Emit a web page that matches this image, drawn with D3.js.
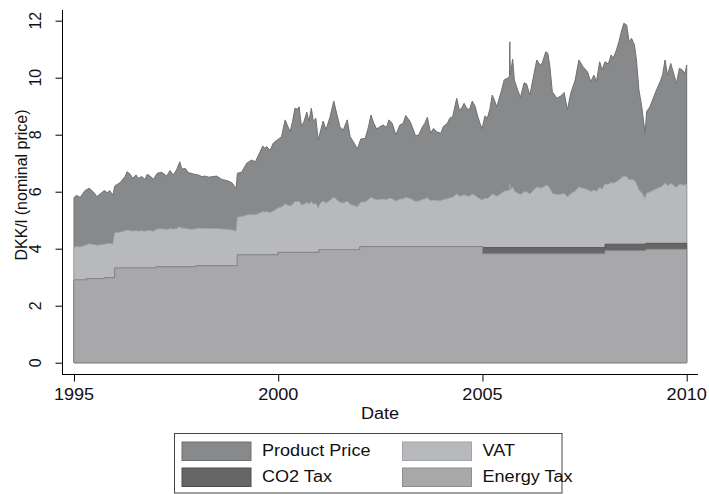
<!DOCTYPE html>
<html>
<head>
<meta charset="utf-8">
<script src="https://cdn.jsdelivr.net/npm/d3@7"></script>
<style>
  html, body { margin: 0; padding: 0; background: #fff; }
  svg { display: block; }
  text { font-family: "Liberation Sans", Arial, Helvetica, sans-serif; fill: #111; }
</style>
</head>
<body>
<svg id="chart" width="709" height="494"></svg>
<script>
// Danish petrol price decomposition, DKK per litre (nominal)
const dates = [
  1995.00,1995.07,1995.15,1995.27,1995.37,1995.47,1995.56,1995.64,1995.74,1995.82,1995.87,1995.95,1996.00,
  1996.13,1996.25,1996.30,1996.37,1996.44,1996.52,1996.57,1996.66,1996.74,1996.79,1996.88,1996.94,
  1997.04,1997.15,1997.27,1997.35,1997.43,1997.51,1997.59,1997.64,1997.72,1997.80,1997.92,
  1998.04,1998.13,1998.21,1998.29,1998.41,1998.49,1998.62,1998.74,1998.86,1998.97,
  1999.00,1999.10,1999.23,1999.35,1999.44,1999.54,1999.62,1999.67,1999.72,1999.80,1999.88,2000.00,
  2000.08,2000.17,2000.22,2000.29,2000.35,2000.41,2000.47,2000.51,2000.57,2000.63,2000.70,2000.75,2000.81,2000.86,2000.92,2000.98,
  2001.02,2001.10,2001.17,2001.27,2001.36,2001.43,2001.51,2001.59,2001.69,2001.76,2001.84,2001.94,
  2002.02,2002.13,2002.21,2002.27,2002.34,2002.41,2002.49,2002.57,2002.65,2002.71,2002.79,2002.88,2002.98,
  2003.06,2003.12,2003.23,2003.28,2003.36,2003.44,2003.53,2003.59,2003.65,2003.73,2003.80,2003.88,2003.98,
  2004.04,2004.14,2004.20,2004.27,2004.37,2004.43,2004.49,2004.55,2004.61,2004.68,2004.75,2004.82,2004.88,2004.94,2004.99,
  2005.06,2005.12,2005.18,2005.24,2005.29,2005.35,2005.40,2005.47,2005.53,2005.61,2005.66,2005.67,2005.68,2005.74,2005.78,2005.86,2005.93,
  2006.02,2006.08,2006.16,2006.24,2006.33,2006.41,2006.46,2006.55,2006.60,2006.65,2006.71,2006.82,2006.92,
  2007.00,2007.08,2007.16,2007.27,2007.36,2007.46,2007.57,2007.65,2007.73,2007.79,2007.87,2007.93,
  2008.00,2008.08,2008.15,2008.20,2008.28,2008.34,2008.41,2008.46,2008.53,2008.59,2008.65,2008.72,2008.77,2008.83,2008.90,2008.98,
  2009.02,2009.10,2009.18,2009.26,2009.35,2009.41,2009.47,2009.53,2009.61,2009.67,2009.75,2009.82,2009.89,2009.96,2010.00
];

// Retail pump price (top of the stack)
const pumpPrice = [
  5.80,5.87,5.80,6.04,6.12,6.00,5.83,5.92,6.04,5.96,6.04,5.88,6.20,
  6.32,6.53,6.70,6.62,6.47,6.59,6.47,6.53,6.43,6.61,6.53,6.43,
  6.65,6.68,6.55,6.74,6.59,6.76,7.05,6.79,6.82,6.67,6.62,
  6.59,6.53,6.55,6.51,6.53,6.55,6.43,6.39,6.32,6.12,
  6.65,6.68,7.00,7.11,7.05,7.35,7.60,7.53,7.58,7.45,7.71,7.84,
  7.93,8.52,8.34,8.10,8.46,8.93,8.89,8.98,8.28,8.46,8.79,8.46,8.93,8.46,8.58,7.81,
  8.05,8.48,8.17,8.63,9.18,8.75,8.28,8.16,8.52,7.93,7.75,7.50,
  7.85,7.87,8.28,8.69,8.40,8.20,8.28,8.34,8.25,8.52,8.40,7.99,8.34,
  8.40,8.67,8.46,8.28,7.96,7.99,8.28,8.40,8.61,8.05,8.22,8.10,8.05,
  8.28,8.40,8.58,8.63,9.28,8.87,8.93,9.10,8.93,8.87,9.18,9.00,8.66,8.40,8.20,
  8.66,8.58,8.89,9.39,9.22,8.98,9.22,9.57,9.92,9.98,10.05,11.26,10.10,10.65,9.92,9.57,9.31,
  9.82,9.78,9.39,9.98,10.62,10.45,10.50,10.91,10.86,10.39,9.51,9.28,9.36,
  9.48,8.87,9.45,9.92,10.62,10.39,10.21,9.86,10.09,9.86,10.56,10.27,
  10.56,10.48,10.80,10.68,10.97,11.26,11.67,11.91,11.85,11.26,11.38,11.15,10.62,9.57,8.98,8.05,
  8.81,8.98,9.28,9.57,9.86,10.10,10.62,10.09,10.50,10.20,9.80,10.33,10.27,10.15,10.45
];

// VAT per litre
const vat = [
  1.16,1.17,1.16,1.21,1.22,1.20,1.17,1.18,1.21,1.19,1.21,1.18,1.24,
  1.26,1.31,1.34,1.32,1.29,1.32,1.29,1.31,1.29,1.32,1.31,1.29,
  1.33,1.34,1.31,1.35,1.32,1.35,1.41,1.36,1.36,1.33,1.32,
  1.32,1.31,1.31,1.30,1.31,1.31,1.29,1.28,1.26,1.22,
  1.33,1.34,1.40,1.42,1.41,1.47,1.52,1.51,1.52,1.49,1.54,1.57,
  1.59,1.70,1.67,1.62,1.69,1.79,1.78,1.80,1.66,1.69,1.76,1.69,1.79,1.69,1.72,1.56,
  1.61,1.70,1.63,1.73,1.84,1.75,1.66,1.63,1.70,1.59,1.55,1.50,
  1.57,1.57,1.66,1.74,1.68,1.64,1.66,1.67,1.65,1.70,1.68,1.60,1.67,
  1.68,1.73,1.69,1.66,1.59,1.60,1.66,1.68,1.72,1.61,1.64,1.62,1.61,
  1.66,1.68,1.72,1.73,1.86,1.77,1.79,1.82,1.79,1.77,1.84,1.80,1.73,1.68,1.64,
  1.73,1.72,1.78,1.88,1.84,1.80,1.84,1.91,1.98,2.00,2.01,2.25,2.02,2.13,1.98,1.91,1.86,
  1.96,1.96,1.88,2.00,2.12,2.09,2.10,2.18,2.17,2.08,1.90,1.86,1.87,
  1.90,1.77,1.89,1.98,2.12,2.08,2.04,1.97,2.02,1.97,2.11,2.05,
  2.11,2.10,2.16,2.14,2.19,2.25,2.33,2.38,2.37,2.25,2.28,2.23,2.12,1.91,1.80,1.61,
  1.76,1.80,1.86,1.91,1.97,2.02,2.12,2.02,2.10,2.04,1.96,2.07,2.05,2.03,2.09
];

// Energy tax, changed at the listed dates
const energyTaxDates = [1995.00, 1995.30, 1995.75, 1996.00, 1997.00, 1998.00, 1999.00, 2000.00, 2001.00, 2002.00, 2005.00, 2008.00, 2009.00];
const energyTax      = [2.90,    2.95,    2.98,    3.32,    3.36,    3.40,    3.78,    3.87,    3.97,    4.07,    3.82,    3.93,    3.98];

// CO2 tax, introduced in 2005
const co2TaxDates = [1995.00, 2005.00, 2008.00, 2009.00];
const co2Tax      = [0.00,    0.22,    0.23,    0.21];

const xTicks = [1995, 2000, 2005, 2010];
const yTicks = [0, 2, 4, 6, 8, 10, 12];

const legendItems = [
  { label: "Product Price", fill: "#88898b", stroke: "#6f7072" },
  { label: "VAT",           fill: "#b8b9bc", stroke: "#a2a3a6" },
  { label: "CO2 Tax",       fill: "#666667", stroke: "#4e4e4f" },
  { label: "Energy Tax",    fill: "#a8a8aa", stroke: "#8e8e90" }
];
const colorOf = Object.fromEntries(legendItems.map(d => [d.label, d]));

const svg = d3.select("#chart");
const x = d3.scaleLinear().domain([1995, 2010]).range([74, 686.7]);
const y = d3.scaleLinear().domain([0, 12]).range([362.7, 20.7]);
const textStretch = 1.13;

const stepValue = (ds, vs) => t => vs[Math.max(0, d3.bisectRight(ds, t) - 1)];
const energyAt = stepValue(energyTaxDates, energyTax);
const co2At = stepValue(co2TaxDates, co2Tax);

const rows = dates.map((t, i) => ({
  date: t,
  total: pumpPrice[i],
  vatTop: energyAt(t) + co2At(t) + vat[i]
}));

// Step series extended to the end of the period
const stepRows = (ds, fn) => ds.map(t => ({ date: t, top: fn(t) })).concat([{ date: 2010, top: fn(2010) }]);
const co2Rows = stepRows(Array.from(new Set(energyTaxDates.concat(co2TaxDates))).sort((a, b) => a - b), t => energyAt(t) + co2At(t));
const energyRows = stepRows(energyTaxDates, energyAt);

const plot = svg.append("g");

// Layers drawn back to front, each from zero up to its cumulative top
plot.append("path").datum(rows)
  .attr("d", d3.area().x(d => x(d.date)).y0(y(0)).y1(d => y(d.total)))
  .attr("fill", colorOf["Product Price"].fill)
  .attr("stroke", colorOf["Product Price"].stroke).attr("stroke-width", 1);

plot.append("path").datum(rows)
  .attr("d", d3.area().x(d => x(d.date)).y0(y(0)).y1(d => y(d.vatTop)))
  .attr("fill", colorOf["VAT"].fill)
  .attr("stroke", colorOf["VAT"].stroke).attr("stroke-width", 0.8);

plot.append("path").datum(co2Rows)
  .attr("d", d3.area().curve(d3.curveStepAfter).x(d => x(d.date)).y0(y(0)).y1(d => y(d.top)))
  .attr("fill", colorOf["CO2 Tax"].fill)
  .attr("stroke", colorOf["CO2 Tax"].stroke).attr("stroke-width", 0.8);

plot.append("path").datum(energyRows)
  .attr("d", d3.area().curve(d3.curveStepAfter).x(d => x(d.date)).y0(y(0)).y1(d => y(d.top)))
  .attr("fill", colorOf["Energy Tax"].fill)
  .attr("stroke", colorOf["Energy Tax"].stroke).attr("stroke-width", 0.8);

// Axes
const xAxis = svg.append("g").attr("transform", "translate(0,374.5)")
  .call(d3.axisBottom(x).tickValues(xTicks).tickSize(7).tickFormat(""));
xAxis.select(".domain").remove();
xAxis.selectAll(".tick line").attr("stroke", "#000");
svg.append("line").attr("x1", 62).attr("x2", 698).attr("y1", 374.5).attr("y2", 374.5).attr("stroke", "#000");

const yAxis = svg.append("g").attr("transform", "translate(62.5,0)")
  .call(d3.axisLeft(y).tickValues(yTicks).tickSize(7).tickFormat(""));
yAxis.select(".domain").remove();
yAxis.selectAll(".tick line").attr("stroke", "#000");
svg.append("line").attr("x1", 62.5).attr("x2", 62.5).attr("y1", 10).attr("y2", 375).attr("stroke", "#000");

// Horizontal labels are drawn slightly widened; vertical labels are not
function label(px, py, str, opts = {}) {
  const tf = opts.rotate
    ? `translate(${px},${py}) rotate(${opts.rotate})`
    : `translate(${px},${py}) scale(${textStretch},1)`;
  const g = svg.append("g").attr("transform", tf);
  g.append("text").text(str)
    .attr("text-anchor", opts.anchor || "start")
    .attr("font-size", opts.size || 16);
  return g;
}

xTicks.forEach(t => label(x(t), 400.3, String(t), { anchor: "middle" }));
yTicks.forEach(v => label(40.5, y(v), String(v), { anchor: "middle", rotate: -90, size: 16 }));
label(380, 419.3, "Date", { anchor: "middle" });
label(26.5, 185, "DKK/l (nominal price)", { anchor: "middle", rotate: -90, size: 16 });

// Legend
const legend = svg.append("g");
legend.append("rect").attr("x", 174.5).attr("y", 433.5).attr("width", 387.5).attr("height", 59.5)
  .attr("fill", "#fff").attr("stroke", "#444").attr("stroke-width", 1);
const legendPos = [
  { item: "Product Price", sx: 182, sy: 442, tx: 262, ty: 455.7 },
  { item: "VAT",           sx: 402.5, sy: 442, tx: 482.5, ty: 455.7 },
  { item: "CO2 Tax",       sx: 182, sy: 468, tx: 262, ty: 482 },
  { item: "Energy Tax",    sx: 402.5, sy: 468, tx: 482.5, ty: 482 }
];
legendPos.forEach(p => {
  const c = colorOf[p.item];
  legend.append("rect").attr("x", p.sx).attr("y", p.sy).attr("width", 69).attr("height", 18.5)
    .attr("fill", c.fill).attr("stroke", c.stroke).attr("stroke-width", 1);
  label(p.tx, p.ty, p.item);
});
</script>
</body>
</html>
